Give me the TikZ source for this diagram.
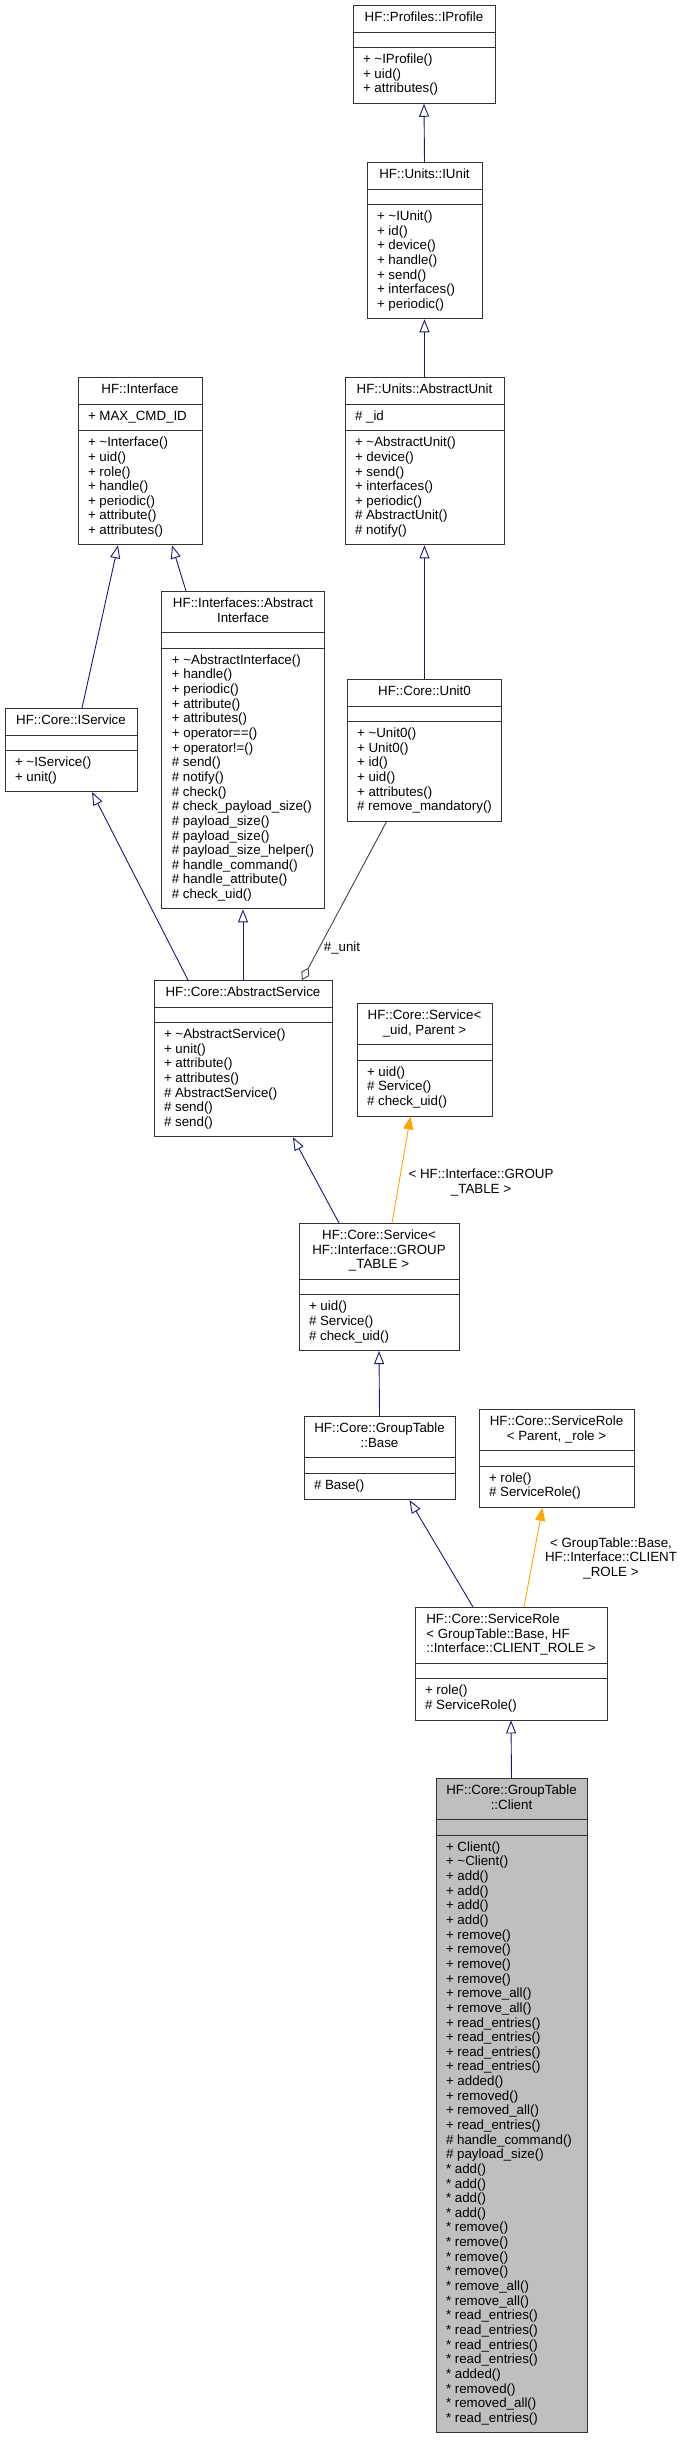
\documentclass[tikz,border=0pt]{standalone}
\usepackage{fontspec}
\setmainfont{Liberation Sans}
\usepackage{tikz}
\usetikzlibrary{arrows.meta,shapes.multipart}
\definecolor{doxblue}{RGB}{25,25,112}
\definecolor{doxorange}{RGB}{255,165,0}
\definecolor{doxgray}{RGB}{64,64,64}
\definecolor{doxfill}{RGB}{191,191,191}
\newcommand\umlhead[1]{\begin{tabular}{@{}c@{}}#1\end{tabular}}
\newcommand\umlrows[1]{\begin{tabular}{@{}l@{}}#1\end{tabular}}

\begin{document}
\begin{tikzpicture}[x=1pt,y=-1pt,
  font=\fontsize{13.33}{14.64}\selectfont,
  cls/.style={rectangle split,rectangle split parts=3,
    rectangle split part align={center,left,left},
    draw=black!80,line width=.9pt,fill=white,anchor=north,
    inner xsep=10pt,inner ysep=5.5pt},
  inherit/.style={-{Triangle[open,length=13pt,width=10pt]},draw=doxblue,line width=.9pt},
  tmpl/.style={-{Triangle[length=13pt,width=10pt]},draw=doxorange,line width=.9pt},
  aggr/.style={{Diamond[open,length=14pt,width=9pt]}-,draw=doxgray,line width=.9pt},
  lbl/.style={inner sep=0pt}]

\path[use as bounding box] (0,0) rectangle (683,2447);

% top of the hierarchy
\node[cls,minimum width=142] (iprofile) at (424,5)
  {\umlhead{HF::Profiles::IProfile}\nodepart{two}\umlrows{}\nodepart{three}
   \umlrows{+ \textasciitilde IProfile()\\+ uid()\\+ attributes()}};
\node[cls,minimum width=115] (iunit) at (424.5,162)
  {\umlhead{HF::Units::IUnit}\nodepart{two}\umlrows{}\nodepart{three}
   \umlrows{+ \textasciitilde IUnit()\\+ id()\\+ device()\\+ handle()\\+ send()\\+ interfaces()\\+ periodic()}};
\node[cls,minimum width=124] (interface) at (140,377)
  {\umlhead{HF::Interface}\nodepart{two}\umlrows{+ MAX\_CMD\_ID}\nodepart{three}
   \umlrows{+ \textasciitilde Interface()\\+ uid()\\+ role()\\+ handle()\\+ periodic()\\+ attribute()\\+ attributes()}};
\node[cls,minimum width=159] (abstractunit) at (424.5,377)
  {\umlhead{HF::Units::AbstractUnit}\nodepart{two}\umlrows{\# \_id}\nodepart{three}
   \umlrows{+ \textasciitilde AbstractUnit()\\+ device()\\+ send()\\+ interfaces()\\+ periodic()\\\# AbstractUnit()\\\# notify()}};

% middle
\node[cls,minimum width=162] (abstractinterface) at (243,591)
  {\umlhead{HF::Interfaces::Abstract\\Interface}\nodepart{two}\umlrows{}\nodepart{three}
   \umlrows{+ \textasciitilde AbstractInterface()\\+ handle()\\+ periodic()\\+ attribute()\\+ attributes()\\+ operator==()\\+ operator!=()\\\# send()\\\# notify()\\\# check()\\\# check\_payload\_size()\\\# payload\_size()\\\# payload\_size()\\\# payload\_size\_helper()\\\# handle\_command()\\\# handle\_attribute()\\\# check\_uid()}};
\node[cls,minimum width=132] (iservice) at (71,708)
  {\umlhead{HF::Core::IService}\nodepart{two}\umlrows{}\nodepart{three}
   \umlrows{+ \textasciitilde IService()\\+ unit()}};
\node[cls,minimum width=153] (unit0) at (424.5,679)
  {\umlhead{HF::Core::Unit0}\nodepart{two}\umlrows{}\nodepart{three}
   \umlrows{+ \textasciitilde Unit0()\\+ Unit0()\\+ id()\\+ uid()\\+ attributes()\\\# remove\_mandatory()}};
\node[cls,minimum width=178] (abstractservice) at (243,980)
  {\umlhead{HF::Core::AbstractService}\nodepart{two}\umlrows{}\nodepart{three}
   \umlrows{+ \textasciitilde AbstractService()\\+ unit()\\+ attribute()\\+ attributes()\\\# AbstractService()\\\# send()\\\# send()}};
\node[cls,minimum width=135] (servicet) at (424.5,1003)
  {\umlhead{HF::Core::Service<\\\_uid, Parent >}\nodepart{two}\umlrows{}\nodepart{three}
   \umlrows{+ uid()\\\# Service()\\\# check\_uid()}};
\node[cls,minimum width=160] (servicegt) at (379,1223)
  {\umlhead{HF::Core::Service<\\HF::Interface::GROUP\\\_TABLE >}\nodepart{two}\umlrows{}\nodepart{three}
   \umlrows{+ uid()\\\# Service()\\\# check\_uid()}};

% bottom
\node[cls,minimum width=151] (gtbase) at (379.5,1416)
  {\umlhead{HF::Core::GroupTable\\::Base}\nodepart{two}\umlrows{}\nodepart{three}
   \umlrows{\# Base()}};
\node[cls,minimum width=155] (servicerolet) at (556.5,1409)
  {\umlhead{HF::Core::ServiceRole\\< Parent, \_role >}\nodepart{two}\umlrows{}\nodepart{three}
   \umlrows{+ role()\\\# ServiceRole()}};
\node[cls,minimum width=192] (servicerolegt) at (511,1607)
  {\umlrows{HF::Core::ServiceRole\\< GroupTable::Base, HF\\::Interface::CLIENT\_ROLE >}\nodepart{two}\umlrows{}\nodepart{three}
   \umlrows{+ role()\\\# ServiceRole()}};
\node[cls,minimum width=151,fill=doxfill] (client) at (511.5,1778)
  {\umlhead{HF::Core::GroupTable\\::Client}\nodepart{two}\umlrows{}\nodepart{three}
   \umlrows{+ Client()\\+ \textasciitilde Client()\\+ add()\\+ add()\\+ add()\\+ add()\\+ remove()\\+ remove()\\+ remove()\\+ remove()\\+ remove\_all()\\+ remove\_all()\\+ read\_entries()\\+ read\_entries()\\+ read\_entries()\\+ read\_entries()\\+ added()\\+ removed()\\+ removed\_all()\\+ read\_entries()\\\# handle\_command()\\\# payload\_size()\\{*} add()\\{*} add()\\{*} add()\\{*} add()\\{*} remove()\\{*} remove()\\{*} remove()\\{*} remove()\\{*} remove\_all()\\{*} remove\_all()\\{*} read\_entries()\\{*} read\_entries()\\{*} read\_entries()\\{*} read\_entries()\\{*} added()\\{*} removed()\\{*} removed\_all()\\{*} read\_entries()}};

% edges
\draw[inherit] (iunit.north) -- (iprofile.south);
\draw[inherit] (abstractunit.north) -- (iunit.south);
\draw[inherit] (unit0.north) -- (abstractunit.south);
\draw[inherit] ([xshift=11pt]iservice.north) -- ([xshift=-22pt]interface.south);
\draw[inherit] ([xshift=-57pt]abstractinterface.north) -- ([xshift=32pt]interface.south);
\draw[inherit] ([xshift=-55pt]abstractservice.north) -- ([xshift=21pt]iservice.south);
\draw[inherit] (abstractservice.north) -- (abstractinterface.south);
\draw[aggr] ([xshift=59pt]abstractservice.north) -- ([xshift=-38pt]unit0.south);
\node[lbl] (unitlabel) at (342,948) {\#\_unit};
\draw[inherit] ([xshift=-40pt]servicegt.north) -- ([xshift=50pt]abstractservice.south);
\draw[tmpl] ([xshift=13pt]servicegt.north) -- ([xshift=-14pt]servicet.south);
\node[lbl] (gtlabel) at (481,1183) {\umlhead{< HF::Interface::GROUP\\\_TABLE >}};
\draw[inherit] (gtbase.north) -- (servicegt.south);
\draw[inherit] ([xshift=-38pt]servicerolegt.north) -- ([xshift=30pt]gtbase.south);
\draw[tmpl] ([xshift=13pt]servicerolegt.north) -- ([xshift=-14pt]servicerolet.south);
\node[lbl] (rolelabel) at (611,1559) {\umlhead{< GroupTable::Base,\\HF::Interface::CLIENT\\\_ROLE >}};
\draw[inherit] (client.north) -- (servicerolegt.south);

\end{tikzpicture}
\end{document}
